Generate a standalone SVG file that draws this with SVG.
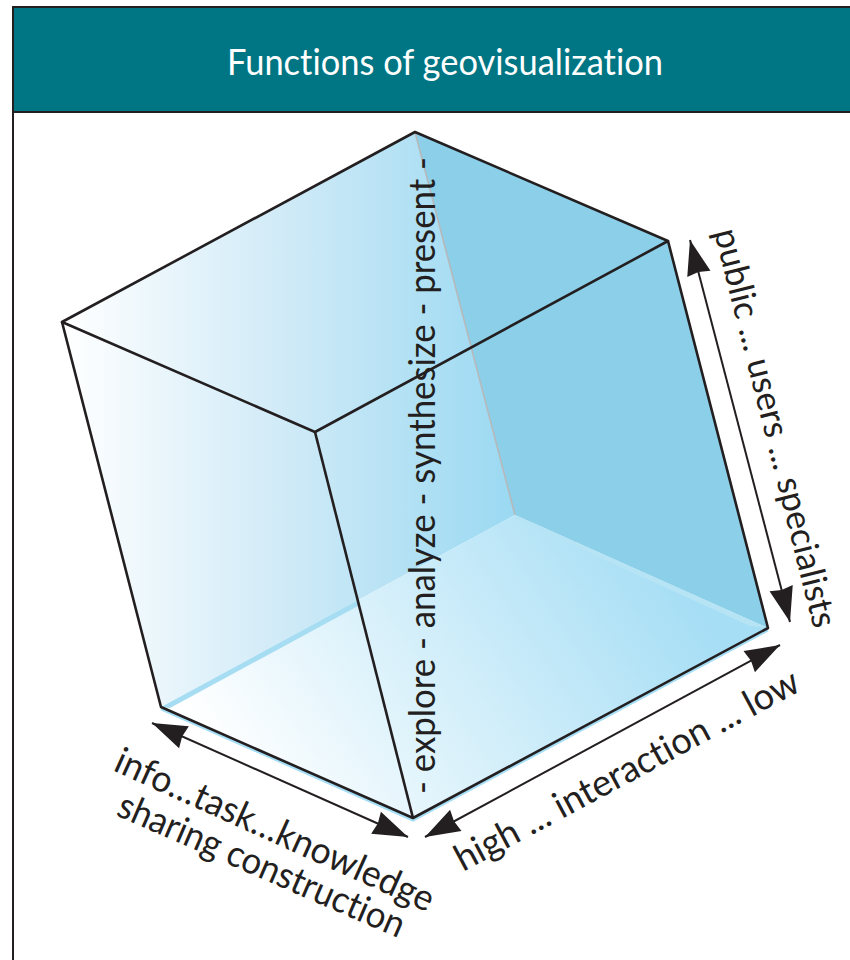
<svg xmlns="http://www.w3.org/2000/svg" width="850" height="960" viewBox="0 0 850 960">
<style>
.edge{fill:none;stroke:#231f20;stroke-width:2.6;stroke-linejoin:round}
.dim{fill:none;stroke:#231f20;stroke-width:2;marker-start:url(#head);marker-end:url(#head)}
text{font-family:Lato,"Open Sans","Liberation Sans",sans-serif;fill:#231f20;font-size:37px;font-variant-ligatures:none}
</style>
<defs>
<linearGradient id="wall" gradientUnits="userSpaceOnUse" x1="62" y1="0" x2="515" y2="0">
<stop offset="0" stop-color="#ffffff"/><stop offset="0.5" stop-color="#cfeaf7"/><stop offset="1" stop-color="#9ad9f2"/>
</linearGradient>
<linearGradient id="floor" gradientUnits="userSpaceOnUse" x1="240" y1="790" x2="640" y2="520">
<stop offset="0" stop-color="#ffffff"/><stop offset="1" stop-color="#a6def5"/>
</linearGradient>
<marker id="head" markerUnits="userSpaceOnUse" markerWidth="40" markerHeight="28" viewBox="0 0 40 28" refX="36" refY="14" orient="auto-start-reverse">
<path d="M36 14L1 2L3 14L1 26Z" fill="#231f20"/>
</marker>
</defs>
<rect width="850" height="960" fill="#fff"/>
<g id="header">
<rect x="13" y="7" width="837" height="105" fill="#007583"/>
<path d="M13 960V7H850M13 112H850" fill="none" stroke="#231f20" stroke-width="2"/>
<text x="445" y="75" text-anchor="middle" textLength="436" lengthAdjust="spacingAndGlyphs" style="fill:#fff;font-size:37px;font-weight:400">Functions of geovisualization</text>
</g>
<g id="cube">
<path id="back-left" d="M62 322L415 132L515 515L161 707Z" fill="url(#wall)"/>
<path id="back-right" d="M415 132L668 241L768 628L515 515Z" fill="#8ccfe8"/>
<path id="floor-face" d="M161 707L515 515L768 628L413 818Z" fill="url(#floor)"/>
<path d="M161 707L358 600L358 606L170 708Z" fill="#a6ddf2"/>
<path d="M515 515L768 628L750 626L515 519Z" fill="#b7e4f5"/>
<path d="M415 132L515 515" fill="none" stroke="#b5b9bb" stroke-width="1.6"/>
<path d="M161 709L413 820L768 630" fill="none" stroke="#a6def5" stroke-width="3"/>
<path class="edge" d="M62 322L415 132L668 241L315 432Z"/>
<path class="edge" d="M62 322L161 707L413 818L768 628L668 241"/>
<path class="edge" d="M315 432L413 818"/>
</g>
<g id="connectors">
<line class="dim" x1="152" y1="723" x2="408" y2="837"/>
<line class="dim" x1="425" y1="837" x2="780" y2="645"/>
<line class="dim" x1="690" y1="240" x2="790" y2="622"/>
</g>
<g id="labels">
<text transform="translate(435 794) rotate(-90)" textLength="637" lengthAdjust="spacingAndGlyphs">- explore - analyze - synthesize - present -</text>
<text transform="translate(714 232) rotate(75.9)" textLength="410" lengthAdjust="spacingAndGlyphs" style="font-size:35px">public ... users ... specialists</text>
<text transform="translate(463 872) rotate(-28.2)" textLength="385" lengthAdjust="spacingAndGlyphs">high ... interaction ... low</text>
<text transform="translate(112 770) rotate(24.3)" textLength="346" lengthAdjust="spacingAndGlyphs">info…task…knowledge</text>
<text transform="translate(115 815) rotate(23.5)" textLength="309" lengthAdjust="spacingAndGlyphs">sharing construction</text>
</g>
</svg>
